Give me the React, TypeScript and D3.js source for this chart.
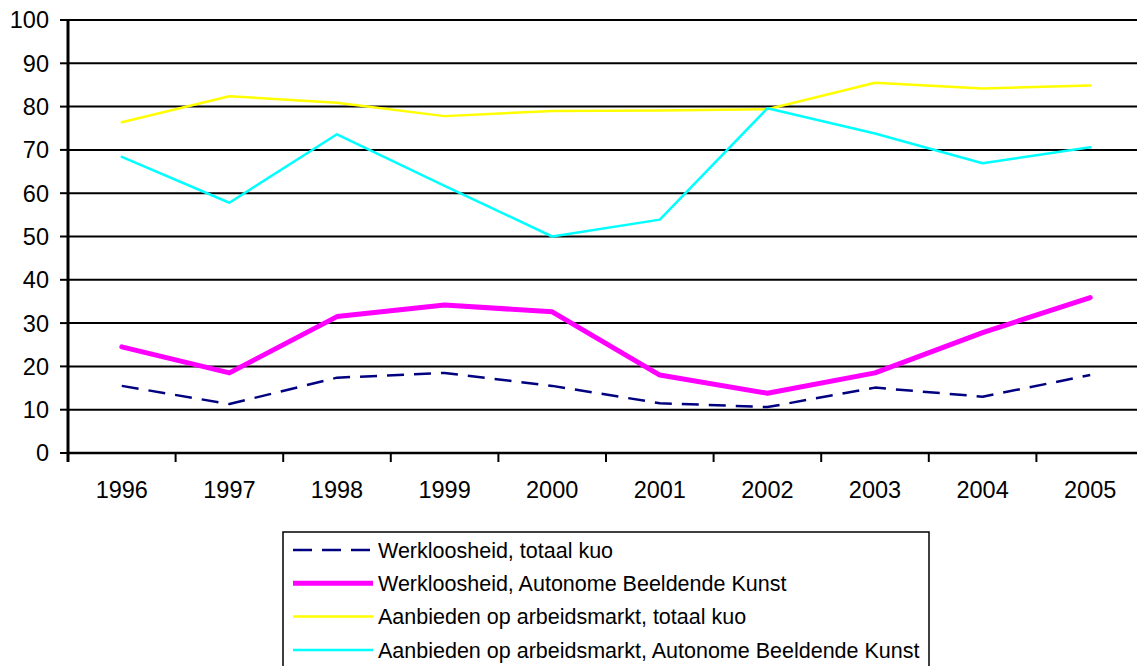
import React from 'react';
import * as d3 from 'd3';

const years = ['1996', '1997', '1998', '1999', '2000', '2001', '2002', '2003', '2004', '2005'];
const yTicks = [0, 10, 20, 30, 40, 50, 60, 70, 80, 90, 100];

const werkTotaal = [15.5, 11.3, 17.4, 18.5, 15.5, 11.5, 10.6, 15.1, 13.0, 18.0];
const werkKunst = [24.5, 18.5, 31.5, 34.2, 32.6, 18.0, 13.8, 18.5, 27.8, 35.9];
const aanbTotaal = [76.4, 82.4, 80.9, 77.8, 79.0, 79.1, 79.4, 85.5, 84.2, 84.9];
const aanbKunst = [68.4, 57.8, 73.6, 61.7, 50.0, 53.9, 79.6, 73.8, 66.9, 70.6];

const seriesNames = [
  'Werkloosheid, totaal kuo',
  'Werkloosheid, Autonome Beeldende Kunst',
  'Aanbieden op arbeidsmarkt, totaal kuo',
  'Aanbieden op arbeidsmarkt, Autonome Beeldende Kunst',
];

const W = 1137;
const H = 666;
const PLOT = { left: 68, top: 20, right: 1144, bottom: 453 };
const FONT = 'Liberation Sans, Arial, sans-serif';

const SERIES = [
  { name: seriesNames[0], values: werkTotaal, color: '#000080', width: 2.5, dash: '17,10' },
  { name: seriesNames[1], values: werkKunst, color: '#ff00ff', width: 5, dash: undefined },
  { name: seriesNames[2], values: aanbTotaal, color: '#ffff00', width: 2.5, dash: undefined },
  { name: seriesNames[3], values: aanbKunst, color: '#00ffff', width: 2.5, dash: undefined },
];

export default function App() {
  const x = d3.scaleBand().domain(years).range([PLOT.left, PLOT.right]).padding(0);
  const y = d3.scaleLinear().domain([0, 100]).range([PLOT.bottom, PLOT.top]);
  const cx = (yr: string) => x(yr)! + x.bandwidth() / 2;

  const line = d3.line<[string, number]>()
    .x(d => cx(d[0]))
    .y(d => y(d[1]));

  const legend = { x: 283, y: 532, w: 646, h: 150, row: 33.3 };

  return (
    <svg width={W} height={H} style={{ position: 'absolute', left: 0, top: 0, background: '#fff' }}>
      {/* Grid */}
      {yTicks.map(t => (
        <g key={t}>
          {t > 0 && (
            <line x1={PLOT.left} x2={PLOT.right} y1={y(t)} y2={y(t)} stroke="#000" strokeWidth={2} />
          )}
          <line x1={PLOT.left - 8} x2={PLOT.left} y1={y(t)} y2={y(t)} stroke="#000" strokeWidth={2} />
          <text x={49} y={y(t)} dy="0.36em" textAnchor="end" fontFamily={FONT} fontSize={23.5} fill="#000">{t}</text>
        </g>
      ))}

      {/* Axes */}
      <line x1={PLOT.left} x2={PLOT.left} y1={PLOT.top - 1} y2={PLOT.bottom + 9} stroke="#000" strokeWidth={3} />
      <line x1={PLOT.left} x2={PLOT.right} y1={PLOT.bottom} y2={PLOT.bottom} stroke="#000" strokeWidth={2.5} />
      {years.map(yr => (
        <g key={yr}>
          <line x1={x(yr)! + x.bandwidth()} x2={x(yr)! + x.bandwidth()} y1={PLOT.bottom} y2={PLOT.bottom + 9} stroke="#000" strokeWidth={2} />
          <text x={cx(yr)} y={490} dy="0.36em" textAnchor="middle" fontFamily={FONT} fontSize={23.5} fill="#000">{yr}</text>
        </g>
      ))}

      {/* Series */}
      {SERIES.map(s => (
        <path
          key={s.name}
          d={line(years.map((yr, i) => [yr, s.values[i]] as [string, number]))!}
          fill="none"
          stroke={s.color}
          strokeWidth={s.width}
          strokeDasharray={s.dash}
          strokeLinejoin="round"
          strokeLinecap={s.dash ? 'butt' : 'round'}
        />
      ))}

      {/* Legend */}
      <rect x={legend.x} y={legend.y} width={legend.w} height={legend.h} fill="#fff" stroke="#000" strokeWidth={1.5} />
      {SERIES.map((s, i) => {
        const ly = legend.y + 18 + i * legend.row;
        return (
          <g key={s.name}>
            <line x1={293} x2={373} y1={ly} y2={ly} stroke={s.color} strokeWidth={s.width} strokeDasharray={s.dash ? '19,10' : undefined} />
            <text x={378} y={ly} dy="0.36em" fontFamily={FONT} fontSize={21.5} fill="#000">{s.name}</text>
          </g>
        );
      })}
    </svg>
  );
}
